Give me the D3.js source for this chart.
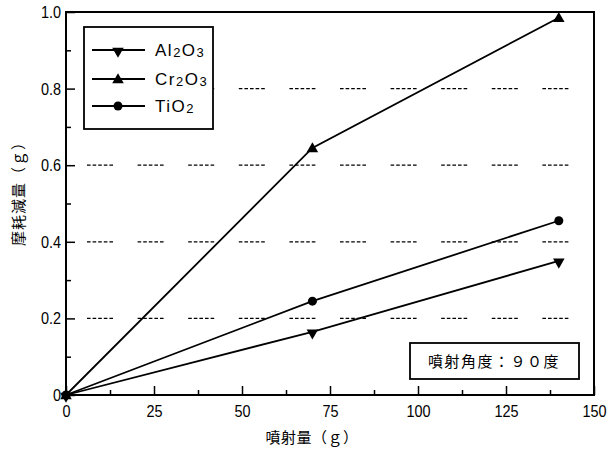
<!DOCTYPE html>
<html>
<head>
<meta charset="utf-8">
<script src="https://cdn.jsdelivr.net/npm/d3@7"></script>
<style>
    body { margin: 0; background: #fff; }
    text { fill: #000; }
    .tick-label { font-family: "Liberation Sans", Arial, sans-serif; font-size: 17px; }
    .cjk { font-family: "Noto Sans CJK JP", "Noto Sans CJK SC", sans-serif; font-size: 15px; }
</style>
</head>
<body>
<div class="chart"></div>
<script>
// data
const sprayAmount = [0, 70, 140];
const al2o3 = [0, 0.165, 0.35];
const cr2o3 = [0, 0.645, 0.985];
const tio2 = [0, 0.245, 0.455];

const xTicks = [0, 25, 50, 75, 100, 125, 150];
const xMinorTicks = [12.5, 37.5, 62.5, 87.5, 112.5, 137.5];
const yTicks = [0, 0.2, 0.4, 0.6, 0.8, 1.0];
const yMinorTicks = [0.1, 0.3, 0.5, 0.7, 0.9];
const gridValues = [0.2, 0.4, 0.6, 0.8];

const series = [
    {name: "Al", sub1: "2", mid: "O", sub2: "3", values: al2o3, symbol: "down"},
    {name: "Cr", sub1: "2", mid: "O", sub2: "3", values: cr2o3, symbol: "up"},
    {name: "TiO", sub1: "2", mid: "", sub2: "", values: tio2, symbol: "circle"},
];

const svgW = 610;
const svgH = 450;
const margin = {top: 12, right: 16, bottom: 55, left: 66};

const x = d3.scaleLinear()
    .domain([0, 150])
    .range([margin.left, svgW - margin.right]);
const y = d3.scaleLinear()
    .domain([0, 1])
    .range([svgH - margin.bottom, margin.top]);

const svg = d3.select("div.chart")
    .append("svg")
        .attr("width", svgW)
        .attr("height", svgH)
        .style("background-color", "white");

// short dashed grid pieces
svg.append("g")
    .selectAll("line")
    .data(gridValues)
    .join("line")
    .attr("x1", x(0) + 21)
    .attr("x2", x(150) - 6)
    .attr("y1", d => y(d))
    .attr("y2", d => y(d))
    .attr("stroke", "#000")
    .attr("stroke-width", 1.3)
    .attr("stroke-dasharray", "3.6,2,3.6,2,3.6,2,3.6,2,3.6,24.6");

function symbolPath(kind) {
    if (kind === "circle") return d3.symbol(d3.symbolCircle, 64)();
    return d3.symbol(d3.symbolTriangle, 58)();
}
function symbolTransform(kind, px, py) {
    if (kind === "down") return `translate(${px},${py + 1}) rotate(180)`;
    if (kind === "up") return `translate(${px},${py + 1})`;
    return `translate(${px},${py})`;
}

// squeeze glyphs so the digits look tall and narrow like the original
function squeeze(sel, k) {
    sel.each(function() {
        let w = this.getComputedTextLength();
        d3.select(this)
            .attr("textLength", w * k)
            .attr("lengthAdjust", "spacingAndGlyphs");
    });
}

const line = d3.line()
    .x((d, i) => x(sprayAmount[i]))
    .y(d => y(d));

series.forEach(s => {
    svg.append("path")
        .attr("d", line(s.values))
        .attr("fill", "none")
        .attr("stroke", "#000")
        .attr("stroke-width", 1.8);
    svg.append("g")
        .selectAll("path")
        .data(s.values)
        .join("path")
        .attr("d", symbolPath(s.symbol))
        .attr("transform", (d, i) => symbolTransform(s.symbol, x(sprayAmount[i]), y(d)))
        .attr("fill", "#000");
});

// frame
svg.append("rect")
    .attr("x", x(0))
    .attr("y", y(1))
    .attr("width", x(150) - x(0))
    .attr("height", y(0) - y(1))
    .attr("fill", "none")
    .attr("stroke", "#000")
    .attr("stroke-width", 2);

// axes, ticks pointing inside
let xAxis = svg.append("g")
    .attr("transform", `translate(0,${y(0)})`)
    .call(d3.axisBottom(x).tickValues(xTicks).tickSizeInner(-9).tickSizeOuter(0).tickPadding(8));
svg.append("g")
    .attr("transform", `translate(0,${y(0)})`)
    .call(d3.axisBottom(x).tickValues(xMinorTicks).tickSizeInner(-5).tickSizeOuter(0).tickFormat(""));
let yAxis = svg.append("g")
    .attr("transform", `translate(${x(0)},0)`)
    .call(d3.axisLeft(y).tickValues(yTicks).tickSizeInner(-9).tickSizeOuter(0).tickPadding(5)
        .tickFormat(d => d === 0 ? "0" : d.toFixed(1)));
svg.append("g")
    .attr("transform", `translate(${x(0)},0)`)
    .call(d3.axisLeft(y).tickValues(yMinorTicks).tickSizeInner(-5).tickSizeOuter(0).tickFormat(""));

svg.selectAll(".domain").remove();
svg.selectAll(".tick line").attr("stroke", "#000").attr("stroke-width", 1.5);
svg.selectAll(".tick text")
    .attr("class", "tick-label")
    .attr("font-family", null)
    .attr("font-size", null);
xAxis.selectAll(".tick text").attr("dy", "0.85em");
squeeze(svg.selectAll(".tick text"), 0.85);

// axis titles
svg.append("text")
    .attr("class", "cjk")
    .attr("x", 312)
    .attr("y", 443)
    .attr("text-anchor", "middle")
    .attr("letter-spacing", "0.5px")
    .text("噴射量（ｇ）");
svg.append("text")
    .attr("class", "cjk")
    .attr("transform", "translate(24,190) rotate(-90)")
    .attr("text-anchor", "middle")
    .attr("font-size", "16px")
    .attr("letter-spacing", "1px")
    .text("摩耗減量（ｇ）");

// legend
const legend = svg.append("g");
legend.append("rect")
    .attr("x", 84)
    .attr("y", 27)
    .attr("width", 129)
    .attr("height", 102)
    .attr("fill", "white")
    .attr("stroke", "#000")
    .attr("stroke-width", 1.8);
const legendRows = [50, 79, 106];
series.forEach((s, i) => {
    let ly = legendRows[i];
    legend.append("line")
        .attr("x1", 92)
        .attr("x2", 145)
        .attr("y1", ly)
        .attr("y2", ly)
        .attr("stroke", "#000")
        .attr("stroke-width", 1.8);
    legend.append("path")
        .attr("d", symbolPath(s.symbol))
        .attr("transform", symbolTransform(s.symbol, 118, ly))
        .attr("fill", "#000");
    let t = legend.append("text")
        .attr("class", "tick-label")
        .attr("x", 155)
        .attr("y", ly + 6)
        .attr("letter-spacing", "1.5px");
    t.append("tspan").text(s.name);
    t.append("tspan").attr("font-size", "13px").attr("dy", 1).text(s.sub1);
    if (s.mid) {
        t.append("tspan").attr("dy", -1).text(s.mid);
        t.append("tspan").attr("font-size", "13px").attr("dy", 1).text(s.sub2);
    }
});

// note box
svg.append("rect")
    .attr("x", 410)
    .attr("y", 343)
    .attr("width", 169)
    .attr("height", 36)
    .attr("fill", "white")
    .attr("stroke", "#000")
    .attr("stroke-width", 1.8);
svg.append("text")
    .attr("class", "cjk")
    .attr("x", 494)
    .attr("y", 367)
    .attr("text-anchor", "middle")
    .attr("letter-spacing", "1.5px")
    .text("噴射角度：９０度");
</script>
</body>
</html>
